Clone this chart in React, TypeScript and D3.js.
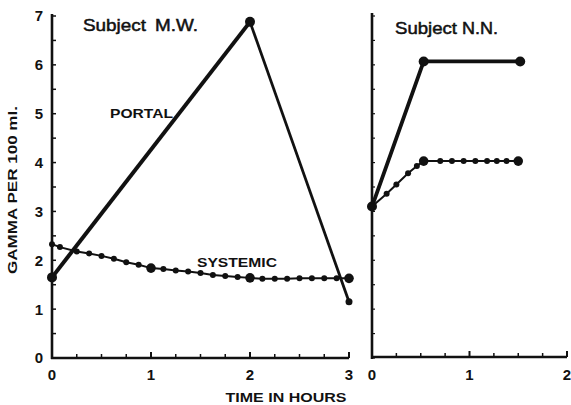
import React from "react";
import * as d3 from "d3";

// Subject M.W. (left panel)
const mwPortalT = [0, 2, 3];
const mwPortalV = [1.65, 6.88, 1.15];
const mwPortalBig = [true, true, false];
const mwSysT = [0, 0.08, 0.25, 0.375, 0.5, 0.625, 0.75, 0.875, 1.0, 1.125, 1.25, 1.375, 1.5, 1.625, 1.75, 1.875, 2.0, 2.125, 2.25, 2.375, 2.5, 2.625, 2.75, 2.875, 3.0];
const mwSysV = [2.33, 2.27, 2.18, 2.14, 2.09, 2.03, 1.96, 1.91, 1.84, 1.82, 1.79, 1.77, 1.74, 1.7, 1.68, 1.66, 1.64, 1.62, 1.62, 1.62, 1.63, 1.63, 1.63, 1.63, 1.63];
const mwSysBig = [1.0, 2.0, 3.0];

// Subject N.N. (right panel)
const nnPortalT = [0, 0.53, 1.52];
const nnPortalV = [3.1, 6.07, 6.07];
const nnSysT = [0, 0.15, 0.25, 0.37, 0.46, 0.53, 0.7, 0.82, 0.94, 1.06, 1.18, 1.28, 1.38, 1.5];
const nnSysV = [3.1, 3.36, 3.55, 3.78, 3.93, 4.03, 4.03, 4.03, 4.03, 4.03, 4.03, 4.03, 4.03, 4.03];
const nnSysBig = [0.53, 1.5];

const yTickLabels = [0, 1, 2, 3, 4, 5, 6, 7];
const leftXTickLabels = [0, 1, 2, 3];
const rightXTickLabels = [0, 1, 2];

const FONT = "'Liberation Sans', Arial, Helvetica, sans-serif";

export default function App() {
  const W = 571, H = 405;
  const y = d3.scaleLinear().domain([0, 7]).range([358, 16]);
  const xL = d3.scaleLinear().domain([0, 3]).range([52, 349]);
  const xR = d3.scaleLinear().domain([0, 2]).range([372, 567]);

  const lineL = d3.line<[number, number]>().x((d) => xL(d[0])).y((d) => y(d[1]));
  const lineR = d3.line<[number, number]>().x((d) => xR(d[0])).y((d) => y(d[1]));

  const mwPortal = mwPortalT.map((t, i) => [t, mwPortalV[i]] as [number, number]);
  const mwSys = mwSysT.map((t, i) => [t, mwSysV[i]] as [number, number]);
  const nnPortal = nnPortalT.map((t, i) => [t, nnPortalV[i]] as [number, number]);
  const nnSys = nnSysT.map((t, i) => [t, nnSysV[i]] as [number, number]);

  const yMinor = d3.range(0, 7.01, 0.5);
  const xMinorL = d3.range(0, 3.01, 0.25);
  const xMinorR = d3.range(0, 2.01, 0.25);
  const ink = "#111";

  return (
    <svg width={W} height={H} style={{ position: "absolute", left: 0, top: 0, background: "#fff" }}>
      <rect x={0} y={0} width={W} height={H} fill="#fff" />
      {/* Left axes */}
      <line x1={xL(0)} x2={xL(0)} y1={y(7) - 2} y2={y(0) + 1} stroke={ink} strokeWidth={2.6} />
      <line x1={xL(0) - 1} x2={xL(3)} y1={y(0)} y2={y(0)} stroke={ink} strokeWidth={2.6} />
      {yMinor.map((v) => (
        <line key={"yl" + v} x1={xL(0)} x2={xL(0) + 4} y1={y(v)} y2={y(v)} stroke={ink} strokeWidth={1.5} />
      ))}
      {xMinorL.map((v) => (
        <line key={"xl" + v} x1={xL(v)} x2={xL(v)} y1={y(0)} y2={y(0) - (Number.isInteger(v) ? 6 : 4)} stroke={ink} strokeWidth={Number.isInteger(v) ? 2 : 1.5} />
      ))}
      {yTickLabels.map((v) => (
        <text key={"ytl" + v} x={39} y={y(v)} dy="0.36em" textAnchor="middle" fontFamily={FONT} fontWeight="bold" fontSize={15} fill={ink}>{v}</text>
      ))}
      {leftXTickLabels.map((v) => (
        <text key={"xtl" + v} x={xL(v)} y={375} dy="0.36em" textAnchor="middle" fontFamily={FONT} fontWeight="bold" fontSize={15} fill={ink}>{v}</text>
      ))}

      {/* Right axes */}
      <line x1={xR(0)} x2={xR(0)} y1={13} y2={y(0) + 1} stroke={ink} strokeWidth={2.6} />
      <line x1={xR(0) - 1} x2={xR(2)} y1={y(0) - 1} y2={y(0) - 1} stroke={ink} strokeWidth={2.6} />
      {yMinor.map((v) => (
        <line key={"yr" + v} x1={xR(0)} x2={xR(0) + 3} y1={y(v)} y2={y(v)} stroke={ink} strokeWidth={1.2} />
      ))}
      {xMinorR.map((v) => (
        <line key={"xr" + v} x1={xR(v)} x2={xR(v)} y1={y(0) - 1} y2={y(0) - 1 - (Number.isInteger(v) ? 6 : 4)} stroke={ink} strokeWidth={Number.isInteger(v) ? 2 : 1.5} />
      ))}
      {rightXTickLabels.map((v) => (
        <text key={"xtr" + v} x={xR(v)} y={375} dy="0.36em" textAnchor="middle" fontFamily={FONT} fontWeight="bold" fontSize={15} fill={ink}>{v}</text>
      ))}

      {/* Axis titles */}
      <text x={286} y={397} dy="0.36em" textAnchor="middle" fontFamily={FONT} fontWeight="bold" fontSize={13} fill={ink} textLength={121} lengthAdjust="spacingAndGlyphs">TIME IN HOURS</text>
      <text transform="translate(13,190) rotate(-90)" dy="0.36em" textAnchor="middle" fontFamily={FONT} fontWeight="bold" fontSize={12} fill={ink} textLength={168} lengthAdjust="spacingAndGlyphs">GAMMA PER 100 ml.</text>

      {/* Panel titles */}
      <text x={83} y={31} fontFamily={FONT} fontSize={17} fill={ink} stroke={ink} strokeWidth={0.5} textLength={63} lengthAdjust="spacingAndGlyphs">Subject</text>
      <text x={155} y={31} fontFamily={FONT} fontSize={17} fill={ink} stroke={ink} strokeWidth={0.5} textLength={43} lengthAdjust="spacingAndGlyphs">M.W.</text>
      <text x={395} y={34} fontFamily={FONT} fontSize={17} fill={ink} stroke={ink} strokeWidth={0.5} textLength={62} lengthAdjust="spacingAndGlyphs">Subject</text>
      <text x={462} y={34} fontFamily={FONT} fontSize={17} fill={ink} stroke={ink} strokeWidth={0.5} textLength={36} lengthAdjust="spacingAndGlyphs">N.N.</text>

      {/* Series labels */}
      <text x={110} y={113} dy="0.36em" fontFamily={FONT} fontWeight="bold" fontSize={13} fill={ink} textLength={63} lengthAdjust="spacingAndGlyphs">PORTAL</text>
      <text x={197} y={262} dy="0.36em" fontFamily={FONT} fontWeight="bold" fontSize={13} fill={ink} textLength={80} lengthAdjust="spacingAndGlyphs">SYSTEMIC</text>

      {/* Left: portal */}
      <path d={lineL(mwPortal.slice(0, 2)) || ""} fill="none" stroke={ink} strokeWidth={4} strokeLinejoin="round" />
      <path d={lineL(mwPortal.slice(1)) || ""} fill="none" stroke={ink} strokeWidth={2.8} strokeLinejoin="round" />
      {mwPortal.map((d, i) => (
        <circle key={"mp" + i} cx={xL(d[0])} cy={y(d[1])} r={mwPortalBig[i] ? 5 : 3.5} fill={ink} />
      ))}
      {/* Left: systemic */}
      <path d={lineL(mwSys) || ""} fill="none" stroke={ink} strokeWidth={2} />
      {mwSys.map((d, i) => (
        <circle key={"ms" + i} cx={xL(d[0])} cy={y(d[1])} r={mwSysBig.includes(d[0]) ? 4.8 : 3} fill={ink} />
      ))}

      {/* Right: portal */}
      <path d={lineR(nnPortal) || ""} fill="none" stroke={ink} strokeWidth={3.8} strokeLinejoin="round" />
      {nnPortal.map((d, i) => (
        <circle key={"np" + i} cx={xR(d[0])} cy={y(d[1])} r={5} fill={ink} />
      ))}
      {/* Right: systemic */}
      <path d={lineR(nnSys) || ""} fill="none" stroke={ink} strokeWidth={2} />
      {nnSys.map((d, i) => (
        <circle key={"ns" + i} cx={xR(d[0])} cy={y(d[1])} r={nnSysBig.includes(d[0]) ? 4.8 : 3} fill={ink} />
      ))}
    </svg>
  );
}
